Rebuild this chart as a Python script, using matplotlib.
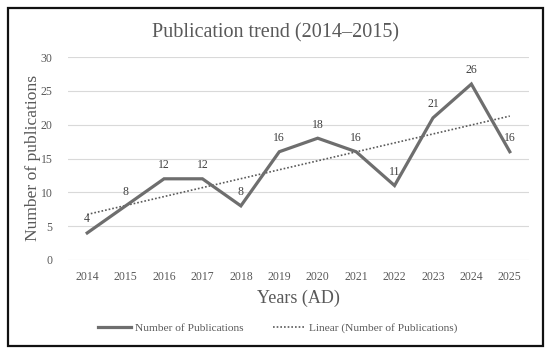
import matplotlib
matplotlib.use("Agg")
import matplotlib.pyplot as plt
from matplotlib.patches import Rectangle
import numpy as np

years = ["2014", "2015", "2016", "2017", "2018", "2019", "2020", "2021", "2022", "2023", "2024", "2025"]
publications = [4, 8, 12, 12, 8, 16, 18, 16, 11, 21, 26, 16]
yticks = [0, 5, 10, 15, 20, 25, 30]

plt.rcParams['font.family'] = ['Liberation Serif', 'DejaVu Serif']

W, H = 550, 354
fig = plt.figure(figsize=(W / 100, H / 100), dpi=100)
ax = fig.add_axes([68 / W, 1 - 260 / H, (529 - 68) / W, (260 - 57) / H])

x = np.arange(len(years))
line_color = '#6e6e6e'
text_color = '#595959'

ax.plot(x, publications, color=line_color, lw=2.3, solid_joinstyle='miter',
        label='Number of Publications', zorder=3)
coef = np.polyfit(x, publications, 1)
trend = np.polyval(coef, x)
ax.plot(x, trend, color='#5a5a5a', lw=1.2, ls=(0, (1, 1.2)),
        label='Linear (Number of Publications)', zorder=2)

for xi, v in zip(x, publications):
    ax.annotate(str(v), (xi, v), xytext=(0, 5.5), textcoords='offset points',
                ha='center', va='bottom', fontsize=8.5, color='#404040')

ax.set_xlim(-0.5, len(years) - 0.5)
ax.set_ylim(0, 30)
ax.set_yticks(yticks)
ax.set_xticks(x)
ax.set_xticklabels(years)
ax.tick_params(axis='both', length=0, labelsize=8.5, labelcolor=text_color)
ax.tick_params(axis='y', pad=11)
ax.tick_params(axis='x', pad=8)
ax.grid(axis='y', color='#d9d9d9', lw=0.8)
ax.set_axisbelow(True)
for s in ax.spines.values():
    s.set_visible(False)

fig.text(276 / W, 1 - 33 / H, 'Publication trend (2014\u20132015)', ha='center', va='center',
         fontsize=14.5, color=text_color)
fig.text(33 / W, 1 - 158 / H, 'Number of publications', ha='center', va='center',
         rotation=90, fontsize=12.6, color=text_color)
fig.text(298 / W, 1 - 298 / H, 'Years (AD)', ha='center', va='center',
         fontsize=13, color=text_color)

leg = fig.legend(loc='center', bbox_to_anchor=(278 / W, 1 - 328 / H), ncol=2, frameon=False,
                 fontsize=8.2, handlelength=2.9, columnspacing=2.6, handletextpad=0.3)
for t in leg.get_texts():
    t.set_color(text_color)

fig.patches.append(Rectangle((7.5 / W, 1 - 346 / H), (542.5 - 7.5) / W, (346 - 8) / H,
                             transform=fig.transFigure, fill=False, edgecolor='#111111', lw=1.6))

fig.savefig('out.png', dpi=100)
